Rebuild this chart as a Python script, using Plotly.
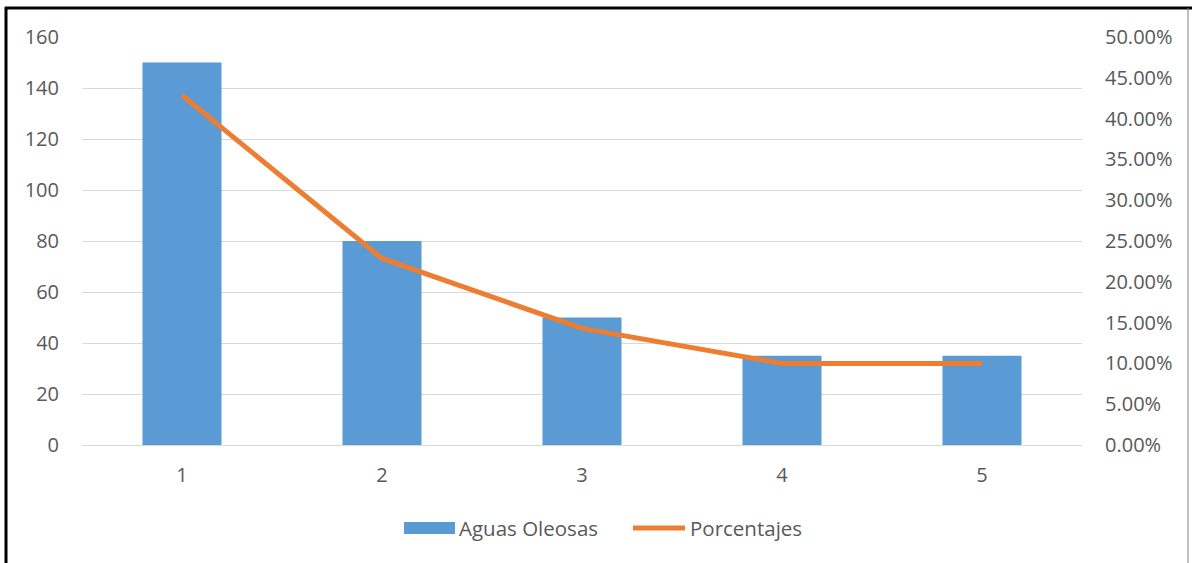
import plotly.graph_objects as go

categories = ["1", "2", "3", "4", "5"]
aguas_oleosas = [150, 80, 50, 35, 35]
porcentajes = [0.4286, 0.2286, 0.1429, 0.10, 0.10]

left_ticks = [0, 20, 40, 60, 80, 100, 120, 140, 160]
right_ticks = [0, 0.05, 0.10, 0.15, 0.20, 0.25, 0.30, 0.35, 0.40, 0.45, 0.50]

series_names = ["Aguas Oleosas", "Porcentajes"]
BLUE = "#5B9BD5"
ORANGE = "#ED7D31"
FONT = "Open Sans"
GREY = "#595959"
FS = 20

fig = go.Figure()
fig.add_trace(go.Bar(x=categories, y=aguas_oleosas, name=series_names[0],
                     marker=dict(color=BLUE, line=dict(width=0)), yaxis="y"))
fig.add_trace(go.Scatter(x=categories, y=porcentajes, name=series_names[1], mode="lines",
                         line=dict(color=ORANGE, width=5), yaxis="y2"))

W, H = 1192, 563
L, R, T, B = 82, 110, 37, 118
pw, ph = W - L - R, H - T - B

def px(x):
    return (x - L) / pw

def py(y):
    return (H - B - y) / ph

# Legend drawn Excel-style (long swatches) below the plot
legend_shapes = [
    dict(type="rect", xref="paper", yref="paper", x0=px(404), x1=px(455), y0=py(534), y1=py(522),
         fillcolor=BLUE, line=dict(width=0)),
    dict(type="line", xref="paper", yref="paper", x0=px(633), x1=px(685), y0=py(528), y1=py(528),
         line=dict(color=ORANGE, width=5)),
]
legend_annots = [
    dict(text=series_names[0], xref="paper", yref="paper", x=px(457), y=py(528),
         xanchor="left", yanchor="middle", showarrow=False,
         font=dict(size=20.5, color=GREY, family=FONT)),
    dict(text=series_names[1], xref="paper", yref="paper", x=px(688), y=py(528),
         xanchor="left", yanchor="middle", showarrow=False,
         font=dict(size=20.5, color=GREY, family=FONT)),
]

frame_shapes = [
    dict(type="line", xref="paper", yref="paper", x0=px(6), x1=px(6), y0=py(7), y1=py(575),
         line=dict(color="black", width=3)),
    dict(type="line", xref="paper", yref="paper", x0=px(5), x1=px(1192), y0=py(8), y1=py(8),
         line=dict(color="black", width=3)),
    dict(type="line", xref="paper", yref="paper", x0=px(1188), x1=px(1188), y0=py(8), y1=py(575),
         line=dict(color="#7f7f7f", width=1)),
]

fig.update_layout(
    width=W, height=H,
    margin=dict(l=L, r=R, t=T, b=B),
    paper_bgcolor="white", plot_bgcolor="white",
    font=dict(family=FONT, size=FS, color=GREY),
    bargap=0.605,
    showlegend=False,
    xaxis=dict(type="category", showgrid=False, zeroline=False, showline=True,
               linecolor="#d9d9d9", linewidth=1,
               ticks="outside", ticklen=12, tickcolor="rgba(0,0,0,0)",
               tickfont=dict(size=FS, color=GREY)),
    yaxis=dict(range=[0, 160], tickvals=left_ticks, showgrid=True, gridcolor="#d9d9d9",
               gridwidth=1, zeroline=False, showline=False,
               ticks="outside", ticklen=18, tickcolor="rgba(0,0,0,0)",
               tickfont=dict(size=FS, color=GREY)),
    yaxis2=dict(range=[0, 0.5], tickvals=right_ticks, tickformat=".2%", overlaying="y",
                side="right", showgrid=False, zeroline=False, showline=False,
                ticks="outside", ticklen=18, tickcolor="rgba(0,0,0,0)",
                tickfont=dict(size=FS, color=GREY)),
    shapes=frame_shapes + legend_shapes,
    annotations=legend_annots,
)

fig.write_html("out.html", config={"displayModeBar": False},
               post_script="document.body.style.margin='0px';")
